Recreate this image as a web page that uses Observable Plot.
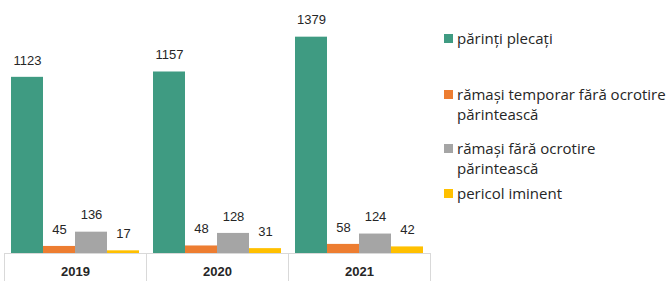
<!DOCTYPE html>
<html>
<head>
<meta charset="utf-8">
<script src="https://cdn.jsdelivr.net/npm/d3@7"></script>
<script src="https://cdn.jsdelivr.net/npm/@observablehq/plot@0.6"></script>
<style>
  html, body { margin: 0; padding: 0; background: #fff; }
  #wrap { position: relative; width: 667px; height: 281px; overflow: hidden; }
  #legend { position: absolute; left: 0; top: 0; width: 667px; height: 281px; pointer-events: none;
    font-family: "Open Sans", "Liberation Sans", Arial, sans-serif; font-size: 15px; color: #262626; }
  .item { position: absolute; left: 444px; line-height: 20px; }
  .sw { position: absolute; left: 0; top: 6px; width: 9px; height: 9px; }
  .lbl { position: absolute; left: 13px; white-space: nowrap; }
  [aria-label^="fx-axis"] text { font-weight: bold; }
</style>
</head>
<body>
<div id="wrap"><div id="chart"></div><div id="legend"></div></div>
<script>
const years = ["2019", "2020", "2021"];
const series = [
  "părinți plecați",
  "rămași temporar fără ocrotire părintească",
  "rămași fără ocrotire părintească",
  "pericol iminent"
];
const legendLines = [
  ["părinți plecați"],
  ["rămași temporar fără ocrotire", "părintească"],
  ["rămași fără ocrotire", "părintească"],
  ["pericol iminent"]
];
const colors = ["#3f9b82", "#ed7d31", "#a5a5a5", "#ffc000"];
const parintiPlecati = [1123, 1157, 1379];
const ramasiTemporar = [45, 48, 58];
const ramasiFara = [136, 128, 124];
const pericolIminent = [17, 31, 42];

const seriesValues = [parintiPlecati, ramasiTemporar, ramasiFara, pericolIminent];
const data = years.flatMap((year, i) =>
  series.map((s, j) => ({year, series: s, value: seriesValues[j][i]}))
);

// Drawn in each facet (facet-local coordinates): left and right edge of the facet cell, below the baseline
function separators(index, scales, values, dims) {
  const g = d3.create("svg:g").attr("stroke", "#d9d9d9").attr("stroke-width", 1);
  const fx = scales.fx;
  let bw = fx ? (typeof fx.bandwidth === "function" ? fx.bandwidth() : fx.bandwidth) : undefined;
  if (!(bw > 0)) bw = (dims.width - dims.marginLeft - dims.marginRight) / years.length;
  const y0 = dims.height - dims.marginBottom;
  for (const e of [dims.marginLeft, dims.marginLeft + bw]) {
    const xx = Math.round(e) + 0.5;
    g.append("line").attr("x1", xx).attr("x2", xx).attr("y1", y0).attr("y2", dims.height);
  }
  return g.node();
}

const chart = Plot.plot({
  width: 667,
  height: 281,
  marginLeft: 3,
  marginRight: 236,
  marginTop: 2,
  marginBottom: 28,
  style: {fontFamily: "'Liberation Sans', Arial, sans-serif", fontSize: "13px", color: "#262626", background: "#fff"},
  fx: {domain: years, padding: 0, label: null, axis: "bottom", tickSize: 0, tickPadding: 13},
  x: {domain: series, paddingInner: 0, paddingOuter: 0.16, axis: null},
  y: {domain: [0, 1600], axis: null},
  color: {domain: series, range: colors},
  marks: [
    Plot.barY(data, {fx: "year", x: "series", y: "value", fill: "series"}),
    Plot.text(data, {fx: "year", x: "series", y: "value", text: d => String(d.value), dy: -17, fill: "#262626"}),
    Plot.ruleY([0], {stroke: "#d9d9d9"}),
    separators
  ]
});
document.getElementById("chart").appendChild(chart);

const tops = [28, 84, 138, 183];
const legend = document.getElementById("legend");
legendLines.forEach((lines, i) => {
  const item = document.createElement("div");
  item.className = "item";
  item.style.top = tops[i] + "px";
  const sw = document.createElement("div");
  sw.className = "sw";
  sw.style.background = colors[i];
  item.appendChild(sw);
  const lbl = document.createElement("div");
  lbl.className = "lbl";
  lbl.innerHTML = lines.join("<br>");
  item.appendChild(lbl);
  legend.appendChild(item);
});
</script>
</body>
</html>
